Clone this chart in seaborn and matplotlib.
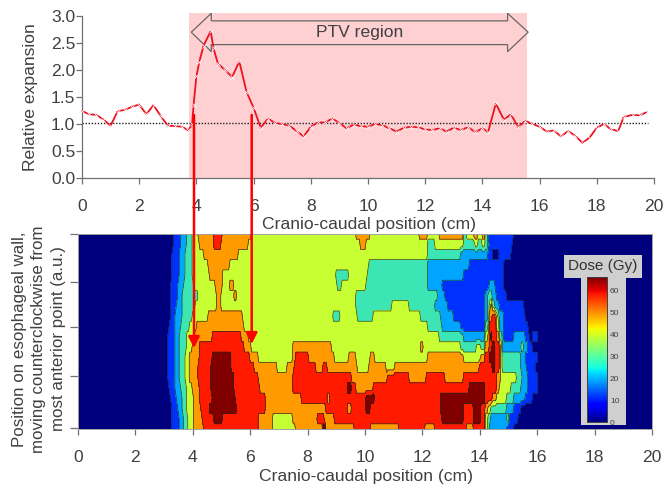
import numpy as np
import pandas as pd
import matplotlib
matplotlib.use("Agg")
import matplotlib.pyplot as plt
from matplotlib.patches import Polygon, Rectangle
from matplotlib.cm import ScalarMappable
from matplotlib.colors import Normalize
import seaborn as sns

sns.set_theme(style="white")
plt.rcParams['font.family'] = ['Liberation Sans', 'DejaVu Sans']

# --- top panel data ---
expansion_x = [0,0.25,0.5,0.75,1,1.25,1.5,1.75,2,2.25,2.5,2.75,3,3.25,3.5,3.72,3.85,3.9,4,4.1,4.25,4.5,4.6,4.75,5,5.25,5.5,5.75,6,6.25,6.5,6.75,7,7.25,7.5,7.75,8,8.25,8.5,8.75,9,9.25,9.5,9.75,10,10.25,10.5,10.75,11,11.25,11.5,11.75,12,12.25,12.5,12.75,13,13.25,13.5,13.75,14,14.2,14.47,14.75,15,15.25,15.5,15.75,16,16.25,16.5,16.75,17,17.25,17.5,17.75,18,18.25,18.5,18.75,18.94,19.25,19.5,19.75]
expansion_y = [1.24,1.18,1.17,1.08,0.97,1.24,1.26,1.32,1.36,1.18,1.35,1.15,0.97,0.96,0.95,0.88,1.0,1.35,1.88,2.15,2.45,2.72,2.4,2.12,2.0,1.87,2.16,1.6,1.3,0.93,1.1,1.02,1.0,0.97,0.87,0.77,0.95,1.03,1.03,1.1,1.02,0.92,0.99,0.96,0.95,1.0,0.98,0.92,0.86,0.93,0.95,0.94,0.9,0.89,0.92,0.86,0.93,0.89,0.94,0.85,0.92,0.85,1.38,1.08,1.18,0.94,1.06,1.0,0.95,0.86,0.88,0.77,0.87,0.78,0.65,0.75,0.93,1.0,0.9,0.87,1.13,1.17,1.16,1.22]
ptv_start, ptv_end = 3.74, 15.56
x_ticks = list(range(0, 21, 2))
top_y_ticks = [0, 0.5, 1, 1.5, 2, 2.5, 3]

# --- dose map: colour band index and where it ends (cm), row by row from the top ---
dose_rows = [
"0:3.31 1:3.58 2:3.75 3:3.95 4:4.15 5:4.7 6:5.0 5:6.0 4:9.65 5:10.15 4:11.88 5:12.15 4:12.58 5:13.4 3:13.5 4:13.75 5:13.95 4:14.05 5:14.2 3:14.28 1:15.05 2:15.1 1:15.2 0:20",
"0:3.31 1:3.58 2:3.75 3:3.95 4:4.2 5:4.72 6:4.98 5:5.92 4:9.85 5:10.03 4:12.2 3:12.45 4:13.45 3:13.85 4:13.95 3:14.05 4:14.15 3:14.28 2:14.32 1:15.14 0:20",
"0:3.28 1:3.55 2:3.72 3:3.95 4:4.36 5:5.6 4:12.2 3:13.3 2:14.25 1:14.45 0:14.65 1:15.07 0:20",
"0:3.25 1:3.52 2:3.7 3:3.95 4:4.5 5:5.3 4:10.14 3:12.2 2:13.63 1:14.85 0:20",
"0:3.25 1:3.5 2:3.7 3:3.95 4:4.55 5:5.05 4:8.98 3:9.44 4:10.1 3:12.2 2:13.4 1:14.85 0:20",
"0:3.22 1:3.47 2:3.68 3:4.02 4:4.75 5:5.0 4:5.25 5:5.4 4:9.0 3:9.2 4:10.0 3:12.2 2:12.7 1:14.33 2:14.5 1:14.85 0:20",
"0:3.22 1:3.45 2:3.65 3:4.15 4:4.85 5:4.95 4:5.4 5:5.5 4:9.7 3:12.5 2:12.75 1:14.2 2:14.28 3:14.45 2:14.6 1:14.9 0:20",
"0:3.2 1:3.42 2:3.62 3:4.05 4:4.85 5:4.95 4:9.7 3:10.9 4:11.5 3:12.45 2:12.87 1:14.2 2:14.28 3:14.33 4:14.36 5:14.4 3:14.5 2:14.7 1:15.5 0:20",
"0:3.2 1:3.4 2:3.6 3:3.95 4:4.5 5:5.72 4:8.86 3:9.1 4:9.73 3:10.25 4:11.9 3:12.64 2:13.1 1:14.2 2:14.25 3:14.3 4:14.35 5:14.4 6:14.5 5:14.58 4:14.62 3:14.68 2:14.85 1:15.6 0:20",
"0:3.17 1:3.38 2:3.58 3:3.85 4:4.12 5:5.8 4:12.17 3:12.7 2:13.3 1:14.15 2:14.2 3:14.25 4:14.3 5:14.35 6:14.55 5:14.6 4:14.65 3:14.7 2:14.8 1:15.66 0:20",
"0:3.15 1:3.36 2:3.55 3:3.8 4:4.0 5:4.65 6:5.65 5:5.9 4:12.6 3:13.4 2:14.15 3:14.2 4:14.25 5:14.3 6:14.38 7:14.42 6:14.6 5:14.65 4:14.7 3:14.75 2:14.85 1:15.2 2:15.55 1:15.72 0:15.84 1:16.0 0:20",
"0:3.15 1:3.36 2:3.55 3:3.8 4:3.97 5:4.2 6:5.75 5:6.05 4:7.49 5:8.8 4:11.9 5:12.0 4:13.34 3:13.86 4:14.0 3:14.15 4:14.2 5:14.3 6:14.4 7:14.52 6:14.65 5:14.72 4:14.78 2:15.4 3:15.5 2:15.65 1:15.8 0:20",
"0:3.15 1:3.36 2:3.55 3:3.72 4:3.9 5:4.2 6:4.65 7:5.35 6:5.95 5:6.25 4:7.45 5:7.6 6:8.0 5:8.95 4:9.4 5:9.65 4:10.15 5:10.3 4:12.17 5:13.4 4:14.0 5:14.2 6:14.35 7:14.5 6:14.65 5:14.72 4:14.78 3:15.43 2:15.6 1:16.0 0:20",
"0:3.15 1:3.36 2:3.55 3:3.72 4:3.88 5:4.17 6:4.62 7:5.35 6:6.12 5:6.9 4:7.3 5:7.5 6:8.25 5:8.5 6:8.7 5:9.73 4:10.14 5:10.72 4:11.0 5:13.98 6:14.45 7:14.52 6:14.67 5:14.72 4:14.78 3:15.43 2:15.63 1:15.95 0:20",
"0:3.15 1:3.36 2:3.55 3:3.72 4:3.88 5:4.17 6:4.62 7:5.4 6:6.25 5:7.45 6:9.5 5:10.78 6:11.53 5:12.12 6:12.76 5:13.4 6:14.56 5:14.72 4:15.26 3:15.46 2:15.7 1:16.0 0:20",
"0:3.17 1:3.38 2:3.58 3:3.75 4:3.95 5:4.2 6:4.62 7:5.4 6:6.35 5:7.45 6:9.38 7:9.5 6:9.67 5:10.25 6:13.63 7:14.2 6:14.55 5:14.65 4:15.1 3:15.4 2:15.7 1:16.0 0:20",
"0:3.2 1:3.42 2:3.6 3:3.78 4:4.0 5:4.2 6:4.65 7:5.45 6:6.5 5:7.8 6:8.65 5:8.75 6:10.02 7:10.3 6:12.64 7:14.2 6:14.45 5:14.55 4:14.9 3:15.2 2:15.55 1:15.8 0:20",
"0:3.27 1:3.48 2:3.65 3:3.8 4:4.02 5:4.25 6:4.6 7:5.55 6:6.5 5:8.6 6:9.35 5:9.5 6:10.02 7:10.2 6:12.64 7:13.45 6:13.75 7:14.0 6:14.2 5:14.28 4:14.36 3:14.9 2:15.2 1:15.45 0:20",
"0:3.3 1:3.52 2:3.68 3:3.83 4:4.0 5:4.3 6:4.7 7:5.05 6:6.27 5:6.75 4:7.45 5:8.3 6:8.55 5:8.9 6:12.7 7:13.4 6:13.75 7:14.0 6:14.15 5:14.2 4:14.25 3:14.38 2:14.9 3:15.02 1:15.3 0:20",
"0:3.3 1:3.52 2:3.68 3:3.83 4:4.0 5:4.36 6:6.3 5:6.75 4:7.6 5:8.5 7:8.6 5:9.62 6:10.15 5:11.2 6:12.1 5:12.45 6:13.5 5:13.75 6:14.15 5:14.2 4:14.25 3:14.35 2:14.9 1:15.15 0:20",
]
band_colors = ["#00007f", "#0030ff", "#00a5ff", "#3ce6b4", "#c8ff32", "#ff9a00", "#ff1a00", "#800000"]
dose_y_ticks = [0.1, 5.2, 9.9, 14.3, 19]
bar_ticks = [0, 10, 20, 30, 40, 50, 60]

TEXT = "#404040"
SPINE = "#707070"
FS = 12.6
W, H = 664, 484
fig = plt.figure(figsize=(W / 100, H / 100), dpi=100, facecolor="white")

def axes_px(left, top, right, bottom):
    return fig.add_axes([left / W, 1 - bottom / H, (right - left) / W, (bottom - top) / H])

# --- top panel ---
ax = axes_px(82, 16, 654, 178)
ax.axvspan(ptv_start, ptv_end, ymin=0, ymax=3.055 / 3, color="#ffd0d2", lw=0, clip_on=False, zorder=0)
arrow_pts = [(3.82, 2.70), (4.52, 3.05), (4.52, 2.91), (14.88, 2.91), (14.88, 3.05), (15.6, 2.70),
             (14.88, 2.34), (14.88, 2.47), (4.52, 2.47), (4.52, 2.34)]
ax.add_patch(Polygon(arrow_pts, closed=True, facecolor="#ffd0d2", edgecolor="#666666", lw=0.9, clip_on=False, zorder=1))
ax.text(9.7, 2.69, "PTV region", ha="center", va="center", fontsize=FS, color=TEXT, zorder=2)
ax.plot([0, 19.8], [1.02, 1.02], color="#222222", ls=(0, (1, 1.2)), lw=1.0, zorder=2)
frame = pd.DataFrame({"x": expansion_x, "y": expansion_y})
sns.lineplot(data=frame, x="x", y="y", ax=ax, color="#ee1122", lw=1.3, marker="x", ms=2.2, mew=0.5,
             errorbar=None, zorder=3, clip_on=False)
ax.set_xlim(0, 20)
ax.set_ylim(0, 3)
ax.set_xticks(x_ticks)
ax.set_yticks(top_y_ticks)
ax.set_yticklabels([f"{v:.1f}" for v in top_y_ticks])
ax.set_xlabel("")
ax.set_ylabel("")
sns.despine(ax=ax)
for s in ("left", "bottom"):
    ax.spines[s].set_color(SPINE)
    ax.spines[s].set_linewidth(0.9)
ax.tick_params(axis="x", length=4.3, width=0.9, color=SPINE, labelcolor=TEXT, labelsize=FS, pad=10.5, bottom=True)
ax.tick_params(axis="y", length=4.3, width=0.9, color=SPINE, labelcolor=TEXT, labelsize=FS, pad=0.5, left=True)

# --- dose map ---
grid_x = np.arange(0, 20.0001, 0.05)
grid = np.zeros((len(dose_rows), grid_x.size))
for i, row in enumerate(dose_rows):
    start = -1.0
    for part in row.split():
        level, end = part.split(":")
        grid[i, (grid_x > start) & (grid_x <= float(end))] = int(level)
        start = float(end)
grid_y = np.arange(len(dose_rows))[::-1]

ax2 = axes_px(78, 234, 652, 429)
levels = np.arange(-0.5, 8.0, 1.0)
ax2.contourf(grid_x, grid_y, grid, levels=levels, colors=band_colors)
ax2.contour(grid_x, grid_y, grid, levels=levels[1:-1], colors="#1a2a1a", linewidths=0.45)
ax2.set_xlim(0, 20)
ax2.set_ylim(0, 19)
ax2.set_xticks(x_ticks)
ax2.set_yticks(dose_y_ticks)
ax2.set_yticklabels([])
for s in ax2.spines.values():
    s.set_color("#a0a0a0")
    s.set_linewidth(0.7)
ax2.tick_params(axis="x", length=4.3, width=0.9, color=SPINE, labelcolor=TEXT, labelsize=FS, pad=10.5, bottom=True)
ax2.tick_params(axis="y", length=6, width=0.9, color=SPINE, left=True)

# --- colour-bar box ---
fig.add_artist(Rectangle((581 / W, 1 - 425 / H), 45 / W, 148 / H, transform=fig.transFigure, fc="#cfcfcf", ec="none", zorder=5))
fig.add_artist(Rectangle((564 / W, 1 - 277.5 / H), 78 / W, 23 / H, transform=fig.transFigure, fc="#cfcfcf", ec="none", zorder=5))
fig.text(603 / W, 1 - 266 / H, "Dose (Gy)", ha="center", va="center", fontsize=11, color="#303030", zorder=6)
cax = axes_px(586.7, 277.3, 607.3, 422.3)
cax.set_zorder(7)
cb = fig.colorbar(ScalarMappable(Normalize(0, 66), cmap="jet"), cax=cax)
cb.set_ticks(bar_ticks)
cb.outline.set_edgecolor("#404040")
cb.outline.set_linewidth(0.7)
cax.tick_params(axis="y", length=2, width=0.5, direction="in", color="#404040", labelcolor="#404040", labelsize=6, pad=2, right=True)

# --- labels ---
fig.text(31 / W, 1 - 97 / H, "Relative expansion", rotation=90, ha="center", va="center", fontsize=FS, color=TEXT)
fig.text(369 / W, 1 - 224 / H, "Cranio-caudal position (cm)", ha="center", va="center", fontsize=FS, color=TEXT)
fig.text(366.5 / W, 1 - 476 / H, "Cranio-caudal position (cm)", ha="center", va="center", fontsize=FS, color=TEXT)
fig.text(39 / W, 1 - 339 / H, "Position on esophageal wall,\nmoving counterclockwise from\nmost anterior point (a.u.)",
         rotation=90, ha="center", va="center", multialignment="center", fontsize=12.2, linespacing=1.38, color=TEXT, zorder=8)

# --- red linking arrows ---
for px, tip in ((194, 348), (251.7, 344)):
    ax2.annotate("", xy=(px, H - tip), xytext=(px, H - 115), xycoords="figure pixels", textcoords="figure pixels",
                 arrowprops=dict(arrowstyle="-|>,head_width=0.28,head_length=0.55", color="#ff0000", lw=1.8,
                                 shrinkA=0, shrinkB=0), annotation_clip=False, zorder=9)

fig.savefig("out.png", dpi=100)
